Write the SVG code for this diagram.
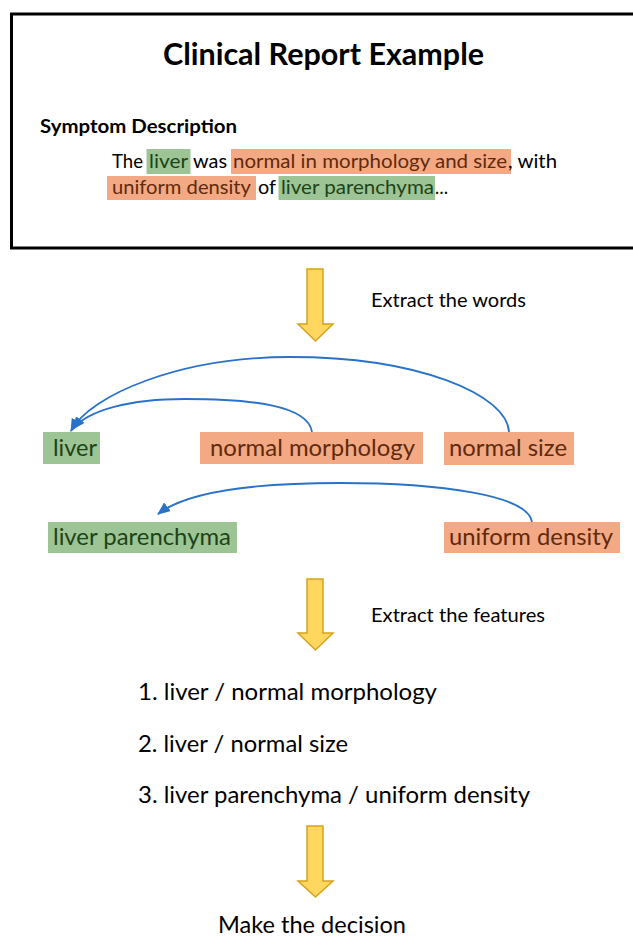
<svg xmlns="http://www.w3.org/2000/svg" width="633" height="937" viewBox="0 0 633 937">
<style>
text{font-family:Lato,"Open Sans","Liberation Sans",sans-serif;fill:#000}
.b{font-weight:bold}
.body{font-size:20px}
.node{font-size:24px}
.lbl{font-size:20px}
.list{font-size:23.5px}
.gbox{fill:#9dc494}
.obox{fill:#f3a983}
.gt{fill:#1d4318}
.ot{fill:#612a0c}
.arc{fill:none;stroke:#2a72c9;stroke-width:1.8}
.yarrow{fill:#ffd75e;stroke:#d6a21e;stroke-width:1.5;stroke-linejoin:miter}
</style>
<defs>
<marker id="ah" viewBox="0 0 12 10" refX="11" refY="5" markerWidth="13" markerHeight="11" markerUnits="userSpaceOnUse" orient="auto">
<path d="M0,0 L12,5 L0,10 Z" fill="#2a72c9"/>
</marker>
</defs>

<g id="report">
<rect x="11.5" y="14" width="640" height="234" fill="none" stroke="#000" stroke-width="3"/>
<text class="b" x="163" y="65" font-size="30" textLength="321" lengthAdjust="spacingAndGlyphs">Clinical Report Example</text>
<text class="b" x="40" y="133" font-size="19.5" textLength="197" lengthAdjust="spacingAndGlyphs">Symptom Description</text>
<rect class="gbox" x="146.5" y="149" width="44" height="25"/>
<rect class="obox" x="231" y="149" width="280" height="25"/>
<rect class="obox" x="107" y="176" width="149" height="24"/>
<rect class="gbox" x="278.5" y="176" width="156.5" height="24"/>
<text class="body" x="112" y="168" textLength="31" lengthAdjust="spacingAndGlyphs">The</text>
<text class="body gt" x="149" y="168" textLength="39" lengthAdjust="spacingAndGlyphs">liver</text>
<text class="body" x="193" y="168" textLength="34" lengthAdjust="spacingAndGlyphs">was</text>
<text class="body ot" x="233" y="168" textLength="274" lengthAdjust="spacingAndGlyphs">normal in morphology and size</text>
<text class="body" x="508" y="168" textLength="49" lengthAdjust="spacingAndGlyphs">, with</text>
<text class="body ot" x="112" y="194" textLength="139" lengthAdjust="spacingAndGlyphs">uniform density</text>
<text class="body" x="258" y="194" textLength="18" lengthAdjust="spacingAndGlyphs">of</text>
<text class="body gt" x="281" y="194" textLength="153" lengthAdjust="spacingAndGlyphs">liver parenchyma</text>
<text class="body" x="435" y="194" textLength="13" lengthAdjust="spacingAndGlyphs">…</text>
</g>

<g id="step1">
<polygon class="yarrow" points="307,269 323,269 323,324 333,324 315.5,341 298,324 307,324"/>
<text class="lbl" x="371" y="307" textLength="155" lengthAdjust="spacingAndGlyphs">Extract the words</text>
</g>

<g id="node-liver">
<rect class="gbox" x="43" y="432" width="57" height="32"/>
<text class="node gt" x="53" y="456" textLength="44" lengthAdjust="spacingAndGlyphs">liver</text>
</g>
<g id="node-normal-morphology">
<rect class="obox" x="200" y="432" width="223" height="32"/>
<text class="node ot" x="210" y="456" textLength="205" lengthAdjust="spacingAndGlyphs">normal morphology</text>
</g>
<g id="node-normal-size">
<rect class="obox" x="444" y="432" width="130" height="33"/>
<text class="node ot" x="449" y="456" textLength="118" lengthAdjust="spacingAndGlyphs">normal size</text>
</g>
<g id="node-liver-parenchyma">
<rect class="gbox" x="48" y="522" width="189" height="31"/>
<text class="node gt" x="53" y="545" textLength="178" lengthAdjust="spacingAndGlyphs">liver parenchyma</text>
</g>
<g id="node-uniform-density">
<rect class="obox" x="444" y="522" width="176" height="31"/>
<text class="node ot" x="449" y="545" textLength="164" lengthAdjust="spacingAndGlyphs">uniform density</text>
</g>

<g id="connectors">
<path class="arc" d="M509,432 C507,395 420,357 290,357 C180,357 90,395 71,431" marker-end="url(#ah)"/>
<path class="arc" d="M312,432 C308,405 250,399 185,399 C130,399 88,410 73,429" marker-end="url(#ah)"/>
<path class="arc" d="M532,522 C528,495 440,483 340,483 C250,483 185,493 158,514" marker-end="url(#ah)"/>
</g>

<g id="step2">
<polygon class="yarrow" points="307,579 323,579 323,633 333,633 315.5,650 298,633 307,633"/>
<text class="lbl" x="371" y="622" textLength="174" lengthAdjust="spacingAndGlyphs">Extract the features</text>
</g>

<g id="features">
<text class="list" x="138" y="700" textLength="299" lengthAdjust="spacingAndGlyphs">1. liver / normal morphology</text>
<text class="list" x="138" y="752" textLength="210" lengthAdjust="spacingAndGlyphs">2. liver / normal size</text>
<text class="list" x="138" y="803" textLength="392" lengthAdjust="spacingAndGlyphs">3. liver parenchyma / uniform density</text>
</g>

<g id="step3">
<polygon class="yarrow" points="307,826 323,826 323,881 333,881 315.5,897 298,881 307,881"/>
<text class="list" x="218" y="933" textLength="188" lengthAdjust="spacingAndGlyphs">Make the decision</text>
</g>
</svg>
